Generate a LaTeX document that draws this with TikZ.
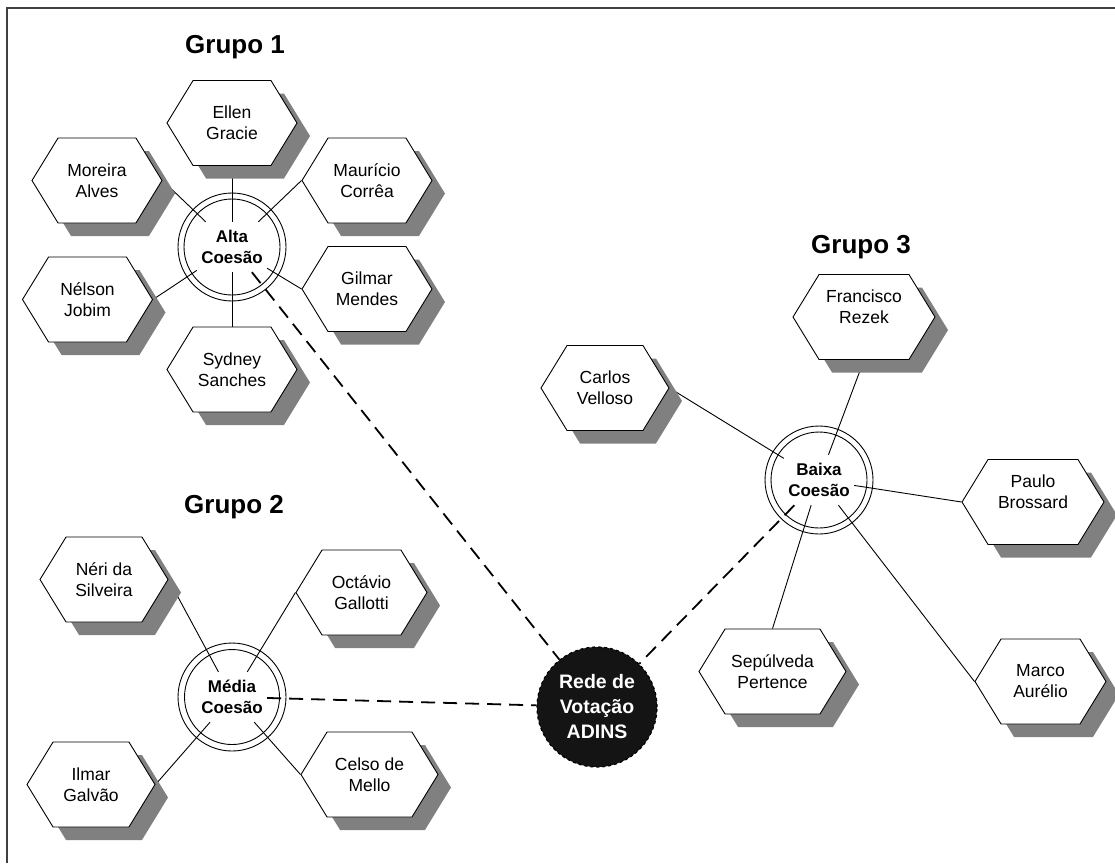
\documentclass[tikz,border=0pt]{standalone}
\usepackage{fontspec}
\setmainfont{Liberation Sans}
\usetikzlibrary{shapes.symbols,shadows}
\pgfdeclarelayer{bg}
\pgfsetlayers{bg,main}
\begin{document}
\begin{tikzpicture}[x=1pt,y=-1pt,
  hex/.style={shape=signal, signal to=east and west, signal pointer angle=117,
    draw=black, line width=0.9pt, fill=white, minimum height=85pt, minimum width=#1,
    inner sep=0pt, align=center, font=\fontsize{17.5}{21}\selectfont,
    drop shadow={shadow xshift=13pt, shadow yshift=-13pt, fill=gray, opacity=1}},
  hex/.default=130pt,
  hextext/.style={align=center, inner sep=0pt, font=\fontsize{17.5}{21}\selectfont},
  ring/.style={circle, draw=black, line width=0.9pt, minimum size=#1, inner sep=0pt},
  ctext/.style={rectangle, minimum width=70pt, minimum height=50pt, inner sep=0pt,
    align=center, font=\bfseries\fontsize{17}{21}\selectfont},
  grp/.style={anchor=base, inner sep=0pt, font=\bfseries\fontsize{26}{30}\selectfont},
  spoke/.style={line width=0.9pt},
  link/.style={line width=1.8pt, dash pattern=on 14pt off 8pt},
  hub/.style={circle, minimum size=120pt, inner sep=0pt, fill=black!92, draw=black,
    dashed, line width=1.2pt, text=white, align=center,
    font=\bfseries\fontsize{19.5}{25}\selectfont}
]
\useasboundingbox (0,0) rectangle (1115,863);
\draw[black!75, line width=1.5pt] (7,863) -- (7,8) -- (1115,8);

% Grupo 1
\node[grp] (g1) at (235,53) {Grupo 1};
\node[hex] (ellen) at (232,123) {Ellen\\Gracie};
\node[hex] (mor) at (97,180.5) {Moreira\\Alves};
\node[hex] (mau) at (367,180.5) {Maurício\\Corrêa};
\node[hex] (nel) at (87.5,299.5) {Nélson\\Jobim};
\node[hex] (gil) at (367,289) {Gilmar\\Mendes};
\node[hex] (syd) at (232,369.5) {Sydney\\Sanches};
\node[ring=108pt] (altaO) at (232,247) {};
\node[ring=96pt] (altaI) at (232,247) {};
\node[ctext] (alta) at (232,247) {Alta\\Coesão};

% Grupo 2
\node[grp] (g2) at (234,513) {Grupo 2};
\node[hex=128pt] (neri) at (104,579.5) {Néri da\\Silveira};
\node[hex=131pt] (oct) at (361.5,592.5) {Octávio\\Gallotti};
\node[hex=128pt] (ilmar) at (91,784.5) {Ilmar\\Galvão};
\node[hex=137pt] (celso) at (369.5,774.5) {Celso de\\Mello};
\node[ring=108pt] (mediaO) at (232,697) {};
\node[ring=95pt] (mediaI) at (232,697) {};
\node[ctext] (media) at (232,697) {Média\\Coesão};

% Grupo 3
\node[grp] (g3) at (861,253) {Grupo 3};
\node[hex=142pt, label={[hextext, yshift=10pt]center:{Francisco\\Rezek}}] (fran) at (864,317) {};
\node[hex=128pt] (carlos) at (605,388) {Carlos\\Velloso};
\node[hex=142pt, label={[hextext, yshift=10pt]center:{Paulo\\Brossard}}] (paulo) at (1033,502) {};
\node[hex=147pt] (sep) at (772.5,671.5) {Sepúlveda\\Pertence};
\node[hex=131pt] (marco) at (1040.5,681.5) {Marco\\Aurélio};
\node[ring=108pt] (baixaO) at (819,480) {};
\node[ring=96pt] (baixaI) at (819,480) {};
\node[ctext] (baixa) at (819,480) {Baixa\\Coesão};

% centro
\node[hub] (adins) at (597,707) {Rede de\\Votação\\ADINS};

\begin{pgfonlayer}{bg}
\draw[spoke] (ellen.south) -- (alta);
\draw[spoke] (syd.north) -- (alta);
\draw[spoke] (mor.east) -- (alta);
\draw[spoke] (mau.west) -- (alta);
\draw[spoke] (nel.east) -- (alta);
\draw[spoke] (gil.west) -- (alta);
\draw[spoke] (neri.east) -- (media);
\draw[spoke] (oct.west) -- (media);
\draw[spoke] (ilmar.east) -- (media);
\draw[spoke] (celso.west) -- (media);
\draw[spoke] (fran.south) -- (baixa);
\draw[spoke] (carlos.east) -- (baixa);
\draw[spoke] (paulo.west) -- (baixa);
\draw[spoke] (sep.north) -- (baixa);
\draw[spoke] (marco.west) -- (baixa);
\draw[link] (alta) -- (adins);
\draw[link] (media) -- (adins);
\draw[link] (baixa) -- (adins);
\end{pgfonlayer}
\end{tikzpicture}
\end{document}
